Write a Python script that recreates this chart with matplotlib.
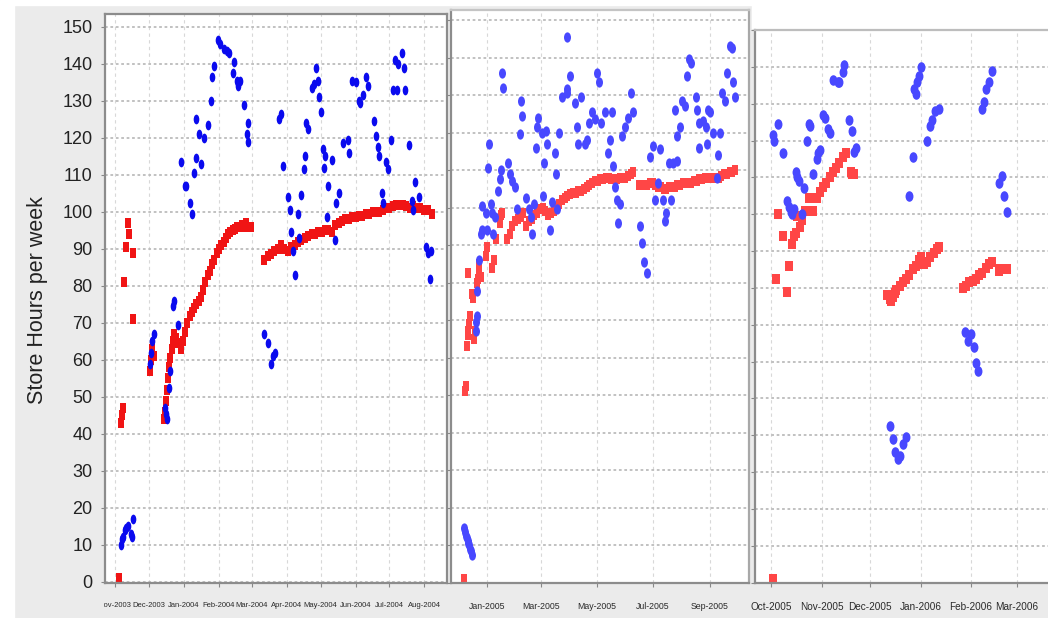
import matplotlib
matplotlib.use("Agg")
import matplotlib.pyplot as plt
import matplotlib.dates as mdates
from matplotlib.path import Path
from matplotlib.transforms import Affine2D, Bbox, TransformedBbox
from matplotlib.patches import Rectangle
import numpy as np
import pandas as pd

# ---------------- data ----------------
# panel 1 : Nov 2003 - Aug 2004
p1_blue = [
    ("2003-11-06", 10), ("2003-11-07", 11.5), ("2003-11-08", 12), ("2003-11-10", 14),
    ("2003-11-11", 14.5), ("2003-11-12", 15), ("2003-11-15", 13), ("2003-11-16", 12),
    ("2003-11-17", 17),
    ("2003-12-02", 59), ("2003-12-03", 62), ("2003-12-04", 65), ("2003-12-05", 67),
    ("2003-12-15", 47), ("2003-12-16", 45.5), ("2003-12-17", 44), ("2003-12-19", 52.5),
    ("2003-12-20", 57), ("2003-12-22", 74.5), ("2003-12-23", 76), ("2003-12-27", 69.5),
    ("2003-12-29", 113.5), ("2004-01-02", 107), ("2004-01-03", 107), ("2004-01-06", 102.5),
    ("2004-01-08", 99.5), ("2004-01-10", 110.5), ("2004-01-12", 114.5), ("2004-01-12", 125),
    ("2004-01-14", 121), ("2004-01-16", 113), ("2004-01-19", 120), ("2004-01-22", 123.5),
    ("2004-01-25", 130), ("2004-01-26", 136.5), ("2004-01-28", 139.5), ("2004-01-31", 146.5),
    ("2004-02-02", 145.5), ("2004-02-05", 144), ("2004-02-08", 143.5), ("2004-02-10", 143),
    ("2004-02-13", 137.5), ("2004-02-14", 140.5), ("2004-02-17", 135.5), ("2004-02-18", 134),
    ("2004-02-20", 135.5), ("2004-02-23", 129), ("2004-02-26", 121), ("2004-02-27", 124),
    ("2004-02-27", 119),
    ("2004-03-12", 67), ("2004-03-15", 64.5), ("2004-03-18", 59), ("2004-03-20", 61),
    ("2004-03-22", 62),
    ("2004-03-25", 125), ("2004-03-27", 126.5), ("2004-03-29", 112.5), ("2004-04-02", 104),
    ("2004-04-04", 100.5), ("2004-04-05", 94.5), ("2004-04-07", 89.5), ("2004-04-08", 83),
    ("2004-04-11", 99.5), ("2004-04-12", 93), ("2004-04-14", 104.5), ("2004-04-16", 111.5),
    ("2004-04-17", 115), ("2004-04-18", 124), ("2004-04-20", 122.5), ("2004-04-23", 133.5),
    ("2004-04-25", 134.5), ("2004-04-27", 139), ("2004-04-29", 135.5), ("2004-04-30", 131),
    ("2004-05-01", 127), ("2004-05-03", 117), ("2004-05-04", 112), ("2004-05-05", 115),
    ("2004-05-07", 98.5), ("2004-05-08", 107), ("2004-05-11", 114), ("2004-05-14", 92.5),
    ("2004-05-15", 102.5), ("2004-05-17", 105), ("2004-05-21", 118.5), ("2004-05-25", 119.5),
    ("2004-05-26", 116), ("2004-05-29", 135.5), ("2004-06-01", 135), ("2004-06-04", 130),
    ("2004-06-05", 129.5), ("2004-06-08", 131.5), ("2004-06-10", 136.5), ("2004-06-12", 134),
    ("2004-06-17", 124.5), ("2004-06-19", 120.5), ("2004-06-21", 117.5), ("2004-06-22", 115),
    ("2004-06-24", 105), ("2004-06-25", 102.5), ("2004-06-28", 113.5), ("2004-06-30", 111.5),
    ("2004-07-02", 119.5), ("2004-07-04", 133), ("2004-07-06", 141), ("2004-07-08", 133),
    ("2004-07-09", 140), ("2004-07-12", 143), ("2004-07-14", 139), ("2004-07-15", 133),
    ("2004-07-18", 118), ("2004-07-21", 103), ("2004-07-22", 100.5), ("2004-07-24", 108),
    ("2004-07-27", 104), ("2004-08-02", 90.5), ("2004-08-04", 89), ("2004-08-06", 82),
    ("2004-08-07", 89.5),
]
p1_red = [
    ("2003-11-04", 1), ("2003-11-06", 43), ("2003-11-07", 45), ("2003-11-08", 47),
    ("2003-11-09", 81), ("2003-11-11", 90.5), ("2003-11-12", 97), ("2003-11-13", 94),
    ("2003-11-17", 89), ("2003-11-17", 71),
    ("2003-12-02", 57), ("2003-12-03", 60), ("2003-12-04", 63), ("2003-12-05", 61),
    ("2003-12-14", 44), ("2003-12-15", 46), ("2003-12-16", 49), ("2003-12-17", 52),
    ("2003-12-18", 55), ("2003-12-19", 58), ("2003-12-20", 60.5), ("2003-12-21", 63),
    ("2003-12-22", 65), ("2003-12-23", 67),
    ("2004-07-28", 101), ("2004-08-01", 100.5), ("2004-08-04", 100.5), ("2004-08-08", 99.5),
]
# dense red runs: start date, step in days, values
p1_red_a_start, p1_red_a_step = "2003-12-25", 2
p1_red_a = [66, 64.5, 63, 65, 67.5, 70, 72, 73, 74, 75, 76, 77, 79, 81, 83, 84, 86, 87,
            89, 90, 91, 92, 93, 94, 94.5, 95, 95.5, 96, 96, 96.5, 96, 97, 96, 96]
p1_red_b_start, p1_red_b_step = "2004-03-12", 3
p1_red_b = [87, 88, 88.5, 89.5, 90, 91, 90,
            89.5, 90.5, 91, 92, 92.5, 93, 93.5, 94, 94, 94.5,
            94.5, 95, 95, 94.5, 96.5, 97, 97.5, 98, 98, 98.5,
            98.5, 99, 99, 99.5, 99.5, 100, 100, 100, 100.5, 101,
            101, 101.5, 102, 102, 102, 101.5, 101, 101.5, 101]

# panel 2 : Dec 2004 - Sep 2005
p2_blue = [
    ("2004-12-07", 14.5), ("2004-12-08", 13.5), ("2004-12-09", 12.5), ("2004-12-10", 12),
    ("2004-12-11", 11), ("2004-12-12", 10.5), ("2004-12-13", 10), ("2004-12-14", 9),
    ("2004-12-15", 8.5), ("2004-12-16", 7.5),
    ("2004-12-20", 69.5), ("2004-12-20", 67), ("2004-12-21", 71), ("2004-12-21", 77.8),
    ("2004-12-24", 86), ("2004-12-26", 93), ("2004-12-27", 100.5), ("2004-12-27", 94),
    ("2004-12-31", 98.5), ("2005-01-01", 94), ("2005-01-02", 110.5), ("2005-01-03", 117),
    ("2005-01-06", 101), ("2005-01-07", 98.5), ("2005-01-08", 93), ("2005-01-10", 97.5),
    ("2005-01-13", 104.5), ("2005-01-15", 107.5), ("2005-01-17", 110), ("2005-01-18", 136),
    ("2005-01-19", 132), ("2005-01-24", 112), ("2005-01-26", 109), ("2005-01-29", 107),
    ("2005-02-01", 105.5), ("2005-02-03", 99.5), ("2005-02-06", 119.5), ("2005-02-07", 128.5),
    ("2005-02-08", 124.5), ("2005-02-13", 102.5), ("2005-02-16", 99.5), ("2005-02-18", 97.5),
    ("2005-02-19", 93), ("2005-02-22", 101), ("2005-02-24", 116), ("2005-02-25", 121.5),
    ("2005-02-26", 124), ("2005-03-02", 120), ("2005-03-03", 103), ("2005-03-04", 112),
    ("2005-03-07", 120.5), ("2005-03-08", 117), ("2005-03-11", 94), ("2005-03-13", 101.5),
    ("2005-03-16", 114.5), ("2005-03-18", 109), ("2005-03-19", 99.5), ("2005-03-21", 120),
    ("2005-03-24", 129.5), ("2005-03-29", 130.5), ("2005-03-30", 131.5), ("2005-03-30", 145.5),
    ("2005-04-02", 135), ("2005-04-07", 128), ("2005-04-09", 121.5), ("2005-04-11", 117),
    ("2005-04-14", 129.5), ("2005-04-18", 117), ("2005-04-20", 118), ("2005-04-23", 122.5),
    ("2005-04-26", 125.5), ("2005-04-29", 123.5), ("2005-05-01", 136), ("2005-05-03", 133.5),
    ("2005-05-06", 122.5), ("2005-05-10", 125.5), ("2005-05-13", 114.5), ("2005-05-15", 118),
    ("2005-05-18", 125.5), ("2005-05-19", 111), ("2005-05-21", 105.5), ("2005-05-23", 102),
    ("2005-05-24", 96), ("2005-05-26", 101), ("2005-05-29", 119), ("2005-06-01", 121.5),
    ("2005-06-04", 124), ("2005-06-07", 130.5), ("2005-06-09", 125.5),
    ("2005-06-17", 95), ("2005-06-19", 90.5), ("2005-06-22", 85.5), ("2005-06-25", 82.5),
    ("2005-06-28", 113.5), ("2005-07-01", 116.5), ("2005-07-04", 102), ("2005-07-07", 106.5),
    ("2005-07-09", 115.5), ("2005-07-12", 102), ("2005-07-14", 96.5), ("2005-07-16", 98.5),
    ("2005-07-19", 112), ("2005-07-21", 102), ("2005-07-23", 112), ("2005-07-25", 126),
    ("2005-07-27", 119), ("2005-07-28", 112.5), ("2005-07-31", 121.5), ("2005-08-02", 128.5),
    ("2005-08-05", 127), ("2005-08-07", 135), ("2005-08-10", 139.5), ("2005-08-12", 138.5),
    ("2005-08-17", 129.5), ("2005-08-18", 126), ("2005-08-20", 122.5), ("2005-08-21", 116),
    ("2005-08-25", 123), ("2005-08-28", 121.5), ("2005-08-29", 117), ("2005-08-30", 126),
    ("2005-09-02", 125.5), ("2005-09-05", 120), ("2005-09-09", 108), ("2005-09-10", 114),
    ("2005-09-12", 120), ("2005-09-15", 130.5), ("2005-09-18", 128.5), ("2005-09-20", 136),
    ("2005-09-23", 143), ("2005-09-26", 142.5), ("2005-09-27", 133.5), ("2005-09-29", 129.5),
]
p2_red = [
    ("2004-12-07", 1), ("2004-12-08", 51), ("2004-12-09", 52.5), ("2004-12-10", 63),
    ("2004-12-11", 66), ("2004-12-11", 82.5), ("2004-12-12", 67), ("2004-12-13", 69),
    ("2004-12-14", 71), ("2004-12-16", 77), ("2004-12-17", 76), ("2004-12-18", 65),
    ("2004-12-19", 67), ("2004-12-21", 80), ("2004-12-22", 81), ("2004-12-23", 82.5),
    ("2004-12-24", 85), ("2004-12-26", 81.5), ("2004-12-31", 87), ("2005-01-01", 89.5),
    ("2005-01-07", 84), ("2005-01-09", 86), ("2005-01-11", 91.5), ("2005-01-15", 96),
    ("2005-01-17", 98), ("2005-01-18", 98.5),
]
p2_red_b_start, p2_red_b_step = "2005-01-23", 3
p2_red_b = [91.5, 93, 95,
            96.5, 97, 97.5, 98.5, 95, 96.5, 97, 98, 98.5, 99.5,
            100, 99, 98, 98.5, 99, 100, 101, 102, 102.5, 103,
            103.5, 104, 104, 104.5, 104.5, 105, 105.5, 106, 106.5, 107,
            107, 107.5, 107.5, 108, 108, 107.5, 107.5, 107.5, 108, 108,
            108, 108.5, 109, 109.5, np.nan, 106, 106, 106, 106, 106.5,
            106.5, 106, 105.5, 105.5, 105, 105, 105.5, 105.5, 105.5, 106, 106,
            106.5, 106.5, 106.5, 106.5, 107, 107, 107.5, 107.5, 108, 108,
            108, 108, 108, 108, 108.5, 109, 109, 109.5, 109.5, 110]

# panel 3 : Oct 2005 - Mar 2006
p3_blue = [
    ("2005-10-02", 121.5), ("2005-10-03", 120), ("2005-10-05", 124.5), ("2005-10-08", 116.5),
    ("2005-10-11", 103.5), ("2005-10-12", 102), ("2005-10-13", 100.5), ("2005-10-14", 100),
    ("2005-10-15", 101.5), ("2005-10-16", 111.5), ("2005-10-17", 110), ("2005-10-18", 109),
    ("2005-10-20", 100), ("2005-10-21", 107), ("2005-10-23", 120), ("2005-10-24", 124.5),
    ("2005-10-25", 124), ("2005-10-27", 111), ("2005-10-29", 115), ("2005-10-30", 116.5),
    ("2005-10-31", 117.5), ("2005-11-02", 127), ("2005-11-03", 126), ("2005-11-05", 123),
    ("2005-11-06", 122), ("2005-11-08", 136.5), ("2005-11-11", 136), ("2005-11-12", 136),
    ("2005-11-14", 138.5), ("2005-11-15", 140.5), ("2005-11-18", 125.5), ("2005-11-20", 122.5),
    ("2005-11-21", 117), ("2005-11-22", 118),
    ("2005-12-13", 42.5), ("2005-12-15", 39), ("2005-12-16", 35.5), ("2005-12-18", 33.5),
    ("2005-12-19", 34.5), ("2005-12-21", 37.5), ("2005-12-23", 39.5), ("2005-12-25", 105),
    ("2005-12-27", 115.5), ("2005-12-28", 134), ("2005-12-29", 132.5), ("2005-12-30", 136),
    ("2005-12-31", 137.5), ("2006-01-01", 140), ("2006-01-05", 120), ("2006-01-07", 124),
    ("2006-01-08", 125.5), ("2006-01-10", 128), ("2006-01-12", 128.5),
    ("2006-01-28", 68), ("2006-01-30", 65.5), ("2006-02-01", 67.5), ("2006-02-03", 64),
    ("2006-02-04", 59.5), ("2006-02-05", 57.5), ("2006-02-08", 128.5), ("2006-02-09", 130.5),
    ("2006-02-10", 134), ("2006-02-12", 136), ("2006-02-14", 139), ("2006-02-18", 108.5),
    ("2006-02-20", 110.5), ("2006-02-21", 105), ("2006-02-23", 100.5),
]
p3_red = [
    ("2005-10-02", 1), ("2005-10-04", 82.5), ("2005-10-05", 100), ("2005-10-08", 94),
    ("2005-10-11", 79), ("2005-10-12", 86), ("2005-10-14", 92), ("2005-10-15", 94),
    ("2005-10-16", 95), ("2005-10-17", 99.5), ("2005-10-19", 96.5), ("2005-10-20", 98.5),
    ("2005-10-22", 101), ("2005-10-24", 104.5), ("2005-10-27", 101),
    ("2005-10-29", 104.5), ("2005-10-31", 106), ("2005-11-02", 107.5), ("2005-11-04", 108.5),
    ("2005-11-06", 110), ("2005-11-08", 111.5), ("2005-11-10", 112.5), ("2005-11-12", 114),
    ("2005-11-14", 115.5), ("2005-11-16", 116.5), ("2005-11-19", 111.5), ("2005-11-20", 111),
    ("2005-11-21", 111),
    ("2005-12-11", 78), ("2005-12-12", 78), ("2005-12-13", 77), ("2005-12-14", 76.5),
    ("2005-12-15", 77.5), ("2005-12-16", 78.5), ("2005-12-17", 79.5), ("2005-12-19", 80.5),
    ("2005-12-21", 81.5), ("2005-12-23", 82.5), ("2005-12-25", 83.5), ("2005-12-27", 85),
    ("2005-12-29", 86), ("2005-12-31", 87.5), ("2006-01-01", 88.5), ("2006-01-03", 86.5),
    ("2006-01-05", 87), ("2006-01-07", 88.5), ("2006-01-09", 89.5), ("2006-01-11", 90.5),
    ("2006-01-12", 91),
    ("2006-01-27", 80), ("2006-01-29", 80.5), ("2006-01-31", 81.5), ("2006-02-02", 82),
    ("2006-02-04", 82.5), ("2006-02-06", 83.5), ("2006-02-08", 84), ("2006-02-10", 85.5),
    ("2006-02-12", 86.5), ("2006-02-14", 87), ("2006-02-18", 84.5), ("2006-02-19", 85),
    ("2006-02-20", 85), ("2006-02-22", 85), ("2006-02-23", 85),
]

p1_ticks = ["2003-11-01", "2003-12-01", "2004-01-01", "2004-02-01", "2004-03-01",
            "2004-04-01", "2004-05-01", "2004-06-01", "2004-07-01", "2004-08-01"]
p2_ticks = ["2005-01-01", "2005-03-01", "2005-05-01", "2005-07-01", "2005-09-01"]
p3_ticks = ["2005-10-01", "2005-11-01", "2005-12-01", "2006-01-01", "2006-02-01", "2006-03-01"]
y_ticks = list(range(0, 151, 10))
y_title = "Store Hours per week"

# ---------------- figure ----------------
W, H = 1048, 618
fig = plt.figure(figsize=(W / 100, H / 100), dpi=100)
fig.patch.set_facecolor("#ebebeb")
# white margins of the original screenshot
for (l, t, r, b) in [(0, 0, 14, 618), (0, 0, 1048, 5), (752, 0, 1048, 28)]:
    fig.add_artist(Rectangle((l / W, 1 - b / H), (r - l) / W, (b - t) / H,
                             transform=fig.transFigure, color="white", zorder=-5))


def box(l, t, r, b):
    return [l / W, 1 - b / H, (r - l) / W, (b - t) / H]


def split(pairs):
    return pd.to_datetime([p[0] for p in pairs]), [p[1] for p in pairs]


def run(start, step, vals):
    return pd.date_range(start, periods=len(vals), freq=f"{step}D"), vals


def ellipse_marker(ratio):
    return Path.unit_circle().transformed(Affine2D().scale(ratio, 1.0))


def rect_marker(ratio):
    w = 0.5 * ratio
    return Path([(-w, -0.5), (w, -0.5), (w, 0.5), (-w, 0.5), (-w, -0.5)], closed=True)


sans = ["Liberation Sans", "DejaVu Sans"]


def setup(ax, xlim, ylim, ticks, fsize, ylabels):
    ax.set_facecolor("white")
    ax.set_xlim(pd.Timestamp(xlim[0]), pd.Timestamp(xlim[1]))
    ax.set_ylim(*ylim)
    ax.set_xticks(pd.to_datetime(ticks))
    ax.xaxis.set_major_formatter(mdates.DateFormatter("%b-%Y"))
    ax.set_yticks(y_ticks)
    ax.yaxis.grid(True, color="#bcbcbc", linestyle=(0, (1.5, 1.5)), linewidth=1.3)
    ax.xaxis.grid(True, color="#d8d8d8", linestyle=(0, (3, 3)), linewidth=0.8)
    ax.set_axisbelow(True)
    ax.tick_params(axis="x", length=3, color="#888888", pad=11, labelsize=fsize,
                   labelcolor="#2a2a2a")
    ax.tick_params(axis="y", length=3, color="#888888", labelleft=ylabels,
                   labelsize=13, labelcolor="#222222", pad=6)
    for lab in ax.get_xticklabels() + ax.get_yticklabels():
        lab.set_family(sans)
    for s in ax.spines.values():
        s.set_color("#8c8c8c")
        s.set_linewidth(1.6)


def dots(ax, series, marker, size, color):
    for d, v in series:
        ax.plot(d, v, linestyle="none", marker=marker, markersize=size, color=color,
                markeredgewidth=0)


# panel 1
ax1 = fig.add_axes(box(105, 14, 447, 583))
setup(ax1, ("2003-10-23", "2004-08-21"), (-0.3, 153.5), p1_ticks, 5.5, True)
dots(ax1, [split(p1_red), run(p1_red_a_start, p1_red_a_step, p1_red_a),
           run(p1_red_b_start, p1_red_b_step, p1_red_b)],
     rect_marker(0.6), 7, "#f01414")
dots(ax1, [split(p1_blue)], ellipse_marker(0.58), 7, "#0a0aee")
# first month label is cut by the frame on the left
first = ax1.xaxis.get_major_ticks()[0].label1
first.set_clip_box(TransformedBbox(Bbox.from_extents(103.6 / W, 0, 1, 1), fig.transFigure))
first.set_clip_on(True)

# panel 2
ax2 = fig.add_axes(box(451, 10, 749, 583))
setup(ax2, ("2004-11-23", "2005-10-14"), (-0.1, 152.7), p2_ticks, 6.3, False)
ax2.spines["top"].set_color("#c4c4c4")
ax2.spines["right"].set_color("#a8a8a8")
dots(ax2, [split(p2_red), run(p2_red_b_start, p2_red_b_step, p2_red_b)],
     rect_marker(0.65), 6.8, "#ff4646")
dots(ax2, [split(p2_blue)], ellipse_marker(0.68), 7.4, "#4848ff")

# panel 3 (runs off the right edge)
ax3 = fig.add_axes(box(755, 30, 1062, 583))
setup(ax3, ("2005-09-21", "2006-03-29"), (-0.1, 147.4), p3_ticks, 7.2, False)
ax3.spines["top"].set_color("#bdbdbd")
ax3.spines["right"].set_visible(False)
dots(ax3, [split(p3_red)], rect_marker(0.8), 7, "#ff4646")
dots(ax3, [split(p3_blue)], ellipse_marker(0.75), 7.6, "#4848ff")

fig.text(38 / W, 1 - 300 / H, y_title, rotation=90, ha="center", va="center",
         fontsize=15.5, color="#222222", family=sans)

fig.savefig("out.png", dpi=100, facecolor=fig.get_facecolor())
